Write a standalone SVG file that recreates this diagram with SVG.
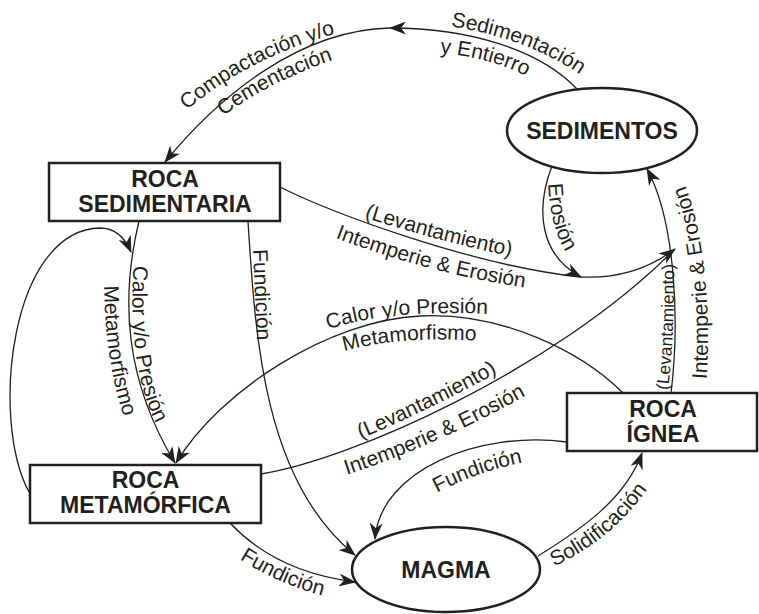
<svg xmlns="http://www.w3.org/2000/svg" xmlns:xlink="http://www.w3.org/1999/xlink" width="759" height="614" viewBox="0 0 759 614">
<style>
.n{font-family:"Liberation Sans",Arial,Helvetica,sans-serif;font-weight:bold;font-size:23px;text-anchor:middle;fill:#231f20}
.l{font-family:"Liberation Sans",Arial,Helvetica,sans-serif;font-size:21px;fill:#231f20;text-anchor:middle}
.s{font-size:17.5px}
.box{fill:#fff;stroke:#231f20;stroke-width:2.5}
.c{fill:none;stroke:#231f20;stroke-width:1.3}
.a{marker-end:url(#ah)}
</style>
<defs>
<marker id="ah" viewBox="0 0 17 13" refX="16" refY="6.5" markerWidth="17" markerHeight="13" markerUnits="userSpaceOnUse" orient="auto"><path d="M0,0 L17,6.5 L0,13 L5,6.5 z" fill="#231f20"/></marker>
<path id="t1" d="M448,26 Q528,38 582,76"/>
<path id="t2" d="M438,53 Q490,57 528,77"/>
<path id="t3" d="M188,109 Q249,58 334,34"/>
<path id="t4" d="M226,114 Q270,82 330,61"/>
<path id="t5" d="M548,181 Q550,228 567,254"/>
<path id="t6" d="M360,216 Q440,242 515,257"/>
<path id="t7" d="M333,237 Q428,273 527,288"/>
<path id="t8" d="M134,258 C129,320 135,390 160,430"/>
<path id="t9" d="M104,284 Q105,360 124,418"/>
<path id="t10" d="M253,248 L257,342"/>
<path id="t11" d="M326,330 Q387,309 490,314"/>
<path id="t12" d="M341,352 Q400,335 480,341"/>
<path id="t13" d="M358,440 Q430,410 500,371"/>
<path id="t14" d="M346,475 Q435,446 527,395"/>
<path id="t15" d="M668,392 Q675,330 674,262"/>
<path id="t16" d="M706,385 C712,320 705,230 683,180"/>
<path id="t17" d="M435,494 Q475,472 525,462"/>
<path id="t18" d="M553,567 Q612,540 648,488"/>
<path id="t19" d="M238,558 Q280,585 324,596"/>
</defs>
<rect width="759" height="614" fill="#fff"/>
<g id="connectors">
<path class="c a" d="M577,89 C540,50 470,28 390,28"/>
<path class="c a" d="M390,28 C300,30 220,95 165,162"/>
<path class="c a" d="M552,166 C535,210 540,255 581,277"/>
<path class="c a" d="M280,187 C330,212 470,265 580,277 C620,279 650,268 675,249"/>
<path class="c" d="M261,474 C350,460 555,370 675,249"/>
<path class="c a" d="M671,393 C680,320 675,220 647,169"/>
<path class="c a" d="M139,221 C120,300 125,380 175,463"/>
<path class="c a" d="M29,492 C-10,420 10,230 100,228 C115,228 125,238 131,252"/>
<path class="c a" d="M248,221 C255,330 262,480 355,555"/>
<path class="c a" d="M623,393 C580,350 500,312 420,316 C330,320 220,390 176,463"/>
<path class="c a" d="M567,442 C480,430 380,470 375,539"/>
<path class="c a" d="M538,556 C580,530 625,500 642,453"/>
<path class="c a" d="M230,523 C260,555 300,575 355,582"/>
</g>
<g id="labels">
<text class="l"><textPath href="#t1" startOffset="50%">Sedimentación</textPath></text>
<text class="l"><textPath href="#t2" startOffset="50%">y Entierro</textPath></text>
<text class="l"><textPath href="#t3" startOffset="50%">Compactación y/o</textPath></text>
<text class="l"><textPath href="#t4" startOffset="50%">Cementación</textPath></text>
<text class="l"><textPath href="#t5" startOffset="50%">Erosión</textPath></text>
<text class="l"><textPath href="#t6" startOffset="50%">(Levantamiento)</textPath></text>
<text class="l"><textPath href="#t7" startOffset="50%">Intemperie &amp; Erosión</textPath></text>
<text class="l"><textPath href="#t8" startOffset="50%">Calor y/o Presión</textPath></text>
<text class="l"><textPath href="#t9" startOffset="50%">Metamorfismo</textPath></text>
<text class="l"><textPath href="#t10" startOffset="50%">Fundición</textPath></text>
<text class="l"><textPath href="#t11" startOffset="50%">Calor y/o Presión</textPath></text>
<text class="l"><textPath href="#t12" startOffset="50%">Metamorfismo</textPath></text>
<text class="l"><textPath href="#t13" startOffset="50%">(Levantamiento)</textPath></text>
<text class="l"><textPath href="#t14" startOffset="50%">Intemperie &amp; Erosión</textPath></text>
<text class="l s"><textPath href="#t15" startOffset="50%">(Levantamiento)</textPath></text>
<text class="l"><textPath href="#t16" startOffset="50%">Intemperie &amp; Erosión</textPath></text>
<text class="l"><textPath href="#t17" startOffset="50%">Fundición</textPath></text>
<text class="l"><textPath href="#t18" startOffset="50%">Solidificación</textPath></text>
<text class="l"><textPath href="#t19" startOffset="50%">Fundición</textPath></text>
</g>
<g id="sedimentos">
<ellipse class="box" cx="602" cy="130.5" rx="95" ry="42.5"/>
<text class="n" x="602" y="139">SEDIMENTOS</text>
</g>
<g id="roca-sedimentaria">
<rect class="box" x="49" y="163" width="231" height="58"/>
<text class="n" x="165" y="187">ROCA</text>
<text class="n" x="165" y="212">SEDIMENTARIA</text>
</g>
<g id="roca-metamorfica">
<rect class="box" x="30" y="465" width="231" height="58"/>
<text class="n" x="145.5" y="488">ROCA</text>
<text class="n" x="145.5" y="513">METAMÓRFICA</text>
</g>
<g id="roca-ignea">
<rect class="box" x="567" y="393" width="190" height="58"/>
<text class="n" x="663" y="417">ROCA</text>
<text class="n" x="663" y="442">ÍGNEA</text>
</g>
<g id="magma">
<ellipse class="box" cx="446" cy="569.5" rx="94" ry="42.5"/>
<text class="n" x="446" y="578">MAGMA</text>
</g>
</svg>
